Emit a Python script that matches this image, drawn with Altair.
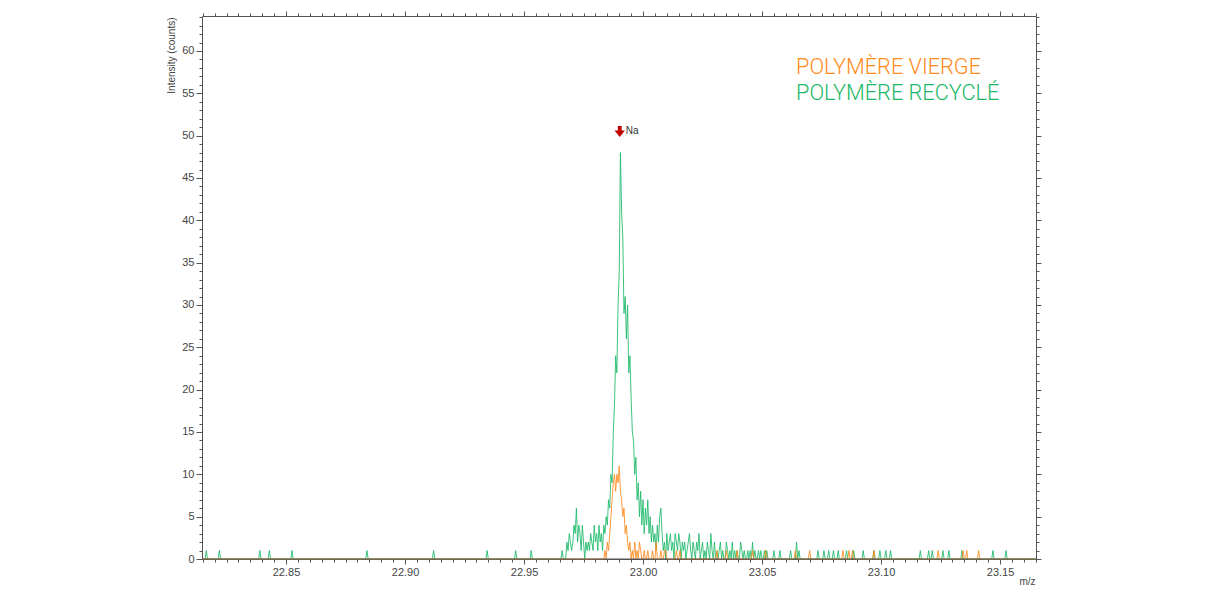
import altair as alt
import numpy as np
import pandas as pd

# ---------------- data ----------------
GRID_START = 22.815
GRID_STEP = 0.0005
GRID_N = 701

# dense green region, starting at 22.966, step 0.0005
green_dense_start = 22.966
green_dense = [
    1, 0, 0, 0, 2, 1, 3, 2, 1, 2, 4, 3, 6, 2, 4, 3, 1, 4, 2, 0,
    2, 1, 2, 1, 3, 2, 1, 4, 2, 3, 1, 4, 2, 3, 1, 4, 3, 5, 4, 7,
    6, 10, 9, 15, 18, 24, 22, 30, 34, 48, 41, 38, 29, 31, 26, 30, 22, 24, 19, 15,
    14, 10, 12, 7, 9, 5, 8, 4, 7, 3, 6, 4, 7, 3, 5, 2, 4, 2, 3, 1,
    4, 2, 5, 6, 3, 1, 2, 0, 3, 1, 2, 3, 1, 2, 0, 3, 2, 1, 3, 2,
    0, 2, 1, 2, 0, 1, 2, 3, 1, 0, 2, 1, 0, 2, 1, 3, 0, 1, 2, 0,
    1, 0, 2, 1, 0, 3, 1, 0, 2, 0, 1, 0, 1, 2, 0, 1, 0, 0, 2, 1,
    0, 1, 0, 2, 0, 1, 0, 1, 0, 0, 2, 1, 0, 1, 0, 0, 1, 0, 1, 0,
    2, 0, 1, 0, 0, 1, 0, 1, 0, 0, 1,
]
# isolated green counts
green_spike_mz = [22.8165, 22.8220, 22.8390, 22.8430, 22.8525, 22.8840, 22.9120,
                  22.9345, 22.9465, 22.9530, 23.0520, 23.0550, 23.0575, 23.0620,
                  23.0645, 23.0655, 23.0735, 23.0760, 23.0780, 23.0800, 23.0820,
                  23.0855, 23.0885, 23.0925, 23.0970, 23.0995, 23.1020, 23.1040,
                  23.1165, 23.1200, 23.1215, 23.1260, 23.1285, 23.1340, 23.1470,
                  23.1525]
green_spike_val = [1, 1, 1, 1, 1, 1, 1, 1, 1, 1, 1, 1, 1, 1, 2, 1, 1, 1, 1, 1, 1,
                   1, 1, 1, 1, 1, 1, 1, 1, 1, 1, 1, 1, 1, 1, 1]

# dense orange region, starting at 22.980, step 0.0005
orange_dense_start = 22.980
orange_dense = [
    0, 0, 0, 0, 0, 0, 0, 0, 1, 0, 2, 1, 3, 5, 7, 9, 10, 8, 10, 9,
    11, 8, 7, 5, 6, 3, 4, 2, 1, 2, 0, 1, 0, 2, 0, 1, 0, 2, 1, 0,
    0, 1, 0, 0, 1, 0, 0, 0, 1, 0, 0, 2, 0, 0, 0, 1, 0, 0, 0, 1, 0,
]
orange_spike_mz = [23.0090, 23.0140, 23.0155, 23.0310, 23.0350, 23.0395, 23.0460,
                   23.0515, 23.0640, 23.0700, 23.0840, 23.0865, 23.0880, 23.0970,
                   23.1240, 23.1345, 23.1360, 23.1410]
orange_spike_val = [1, 1, 1, 1, 1, 1, 1, 1, 1, 1, 1, 1, 1, 1, 1, 1, 1, 1]

series_names = ["POLYMÈRE VIERGE", "POLYMÈRE RECYCLÉ"]
series_colors = ["#ff8a1c", "#1cb868"]

x_major = [22.85, 22.90, 22.95, 23.00, 23.05, 23.10, 23.15]
y_major = [0, 5, 10, 15, 20, 25, 30, 35, 40, 45, 50, 55, 60]

peak_label = "Na"
peak_mz = 22.9902
peak_int = 50.5

X_DOMAIN = [22.8147, 23.1651]
Y_DOMAIN = [0, 64.13]

W, H = 834, 543

# ---------------- build tables ----------------
grid = np.round(GRID_START + GRID_STEP * np.arange(GRID_N), 4)


def build(dense_start, dense, spike_mz, spike_val):
    vals = np.zeros(GRID_N)
    i0 = int(round((dense_start - GRID_START) / GRID_STEP))
    vals[i0:i0 + len(dense)] = dense
    for m, v in zip(spike_mz, spike_val):
        k = int(round((m - GRID_START) / GRID_STEP))
        vals[k] = v
    return vals


green = build(green_dense_start, green_dense, green_spike_mz, green_spike_val)
orange = build(orange_dense_start, orange_dense, orange_spike_mz, orange_spike_val)

df_green = pd.DataFrame({"mz": grid, "intensity": green})
df_orange = pd.DataFrame({"mz": grid, "intensity": orange})

x_minor = [round(22.815 + 0.005 * i, 3) for i in range(71)]
y_minor = list(range(0, 65))

FONT = "Liberation Sans"
LABEL_COLOR = "#444444"

xs = alt.Scale(domain=X_DOMAIN, nice=False, zero=False)
ys = alt.Scale(domain=Y_DOMAIN, nice=False, zero=False)


def xaxis(orient, values, size, labels, title=None):
    kw = dict(orient=orient, values=values, tickSize=size, tickColor="#555555",
              tickWidth=1, domain=False, grid=False, labels=labels,
              labelFont=FONT, labelFontSize=11, labelColor=LABEL_COLOR,
              labelPadding=2, format=".2f", labelFlush=False)
    if title:
        kw.update(title=title, titleFont=FONT, titleFontSize=10, titleFontWeight="normal",
                  titleColor=LABEL_COLOR, titleX=W - 1, titleY=22,
                  titleAlign="right", titleBaseline="middle")
    else:
        kw.update(title=None)
    return alt.Axis(**kw)


def yaxis(orient, values, size, labels, title=None):
    kw = dict(orient=orient, values=values, tickSize=size, tickColor="#555555",
              tickWidth=1, domain=False, grid=False, labels=labels,
              labelFont=FONT, labelFontSize=11, labelColor=LABEL_COLOR,
              labelPadding=2, labelFlush=False)
    if title:
        kw.update(title=title, titleFont=FONT, titleFontSize=10, titleFontWeight="normal",
                  titleColor=LABEL_COLOR, titleX=-31, titleY=1, titleAngle=270,
                  titleAlign="right", titleBaseline="middle")
    else:
        kw.update(title=None)
    return alt.Axis(**kw)


green_line = alt.Chart(df_green).mark_line(
    color=series_colors[1], strokeWidth=1, opacity=0.85, interpolate="linear"
).encode(
    x=alt.X("mz:Q", scale=xs, axis=xaxis("bottom", x_major, 5, True, "m/z")),
    y=alt.Y("intensity:Q", scale=ys, axis=yaxis("left", y_major, 6, True, "Intensity (counts)")),
)

orange_line = alt.Chart(df_orange).mark_line(
    color=series_colors[0], strokeWidth=1, opacity=0.85, interpolate="linear"
).encode(
    x=alt.X("mz:Q", scale=xs, axis=xaxis("bottom", x_minor, 3, False)),
    y=alt.Y("intensity:Q", scale=ys, axis=yaxis("left", y_minor, 3, False)),
)

df_peak = pd.DataFrame({"mz": [peak_mz], "intensity": [peak_int], "label": [peak_label]})

arrow = alt.Chart(df_peak).mark_point(
    shape="M-0.35,-1L0.35,-1L0.35,-0.15L0.95,-0.15L0,1L-0.95,-0.15L-0.35,-0.15Z",
    filled=True, color="#c00000", opacity=1, size=120,
).encode(
    x=alt.X("mz:Q", scale=xs, axis=xaxis("top", x_major, 5, False)),
    y=alt.Y("intensity:Q", scale=ys, axis=yaxis("right", y_major, 5, False)),
)

na_text = alt.Chart(df_peak).mark_text(
    align="left", baseline="middle", dx=6, font=FONT, fontSize=10, color="#333333"
).encode(
    x=alt.X("mz:Q", scale=xs, axis=xaxis("top", x_minor, 3, False)),
    y=alt.Y("intensity:Q", scale=ys, axis=yaxis("right", y_minor, 3, False)),
    text="label:N",
)

# grey baseline of the frame drawn over the zero-level traces
frame_bottom = alt.Chart(df_peak).mark_rule(color="#555555", strokeWidth=1).encode(
    x=alt.value(0), x2=alt.value(W), y=alt.value(H)
)

df_leg = pd.DataFrame({
    "name": series_names,
    "color": series_colors,
    "mz": [23.0643, 23.0643],
    "intensity": [58.1, 55.05],
})
legend = alt.Chart(df_leg).mark_text(
    align="left", baseline="middle", font="Roboto", fontSize=21.7, fontWeight=300
).encode(
    x=alt.X("mz:Q", scale=xs, axis=None),
    y=alt.Y("intensity:Q", scale=ys, axis=None),
    text="name:N",
    color=alt.Color("color:N", scale=None),
)

chart = alt.layer(green_line, orange_line, arrow, na_text, frame_bottom, legend).resolve_axis(
    x="independent", y="independent"
).properties(
    width=W, height=H,
    autosize=alt.AutoSizeParams(type="none"),
    padding={"left": 194, "top": 8, "right": 40, "bottom": 40},
).configure_view(
    stroke="#555555", strokeWidth=1
)

chart.save("out.html", embed_options={"renderer": "svg", "actions": False})
